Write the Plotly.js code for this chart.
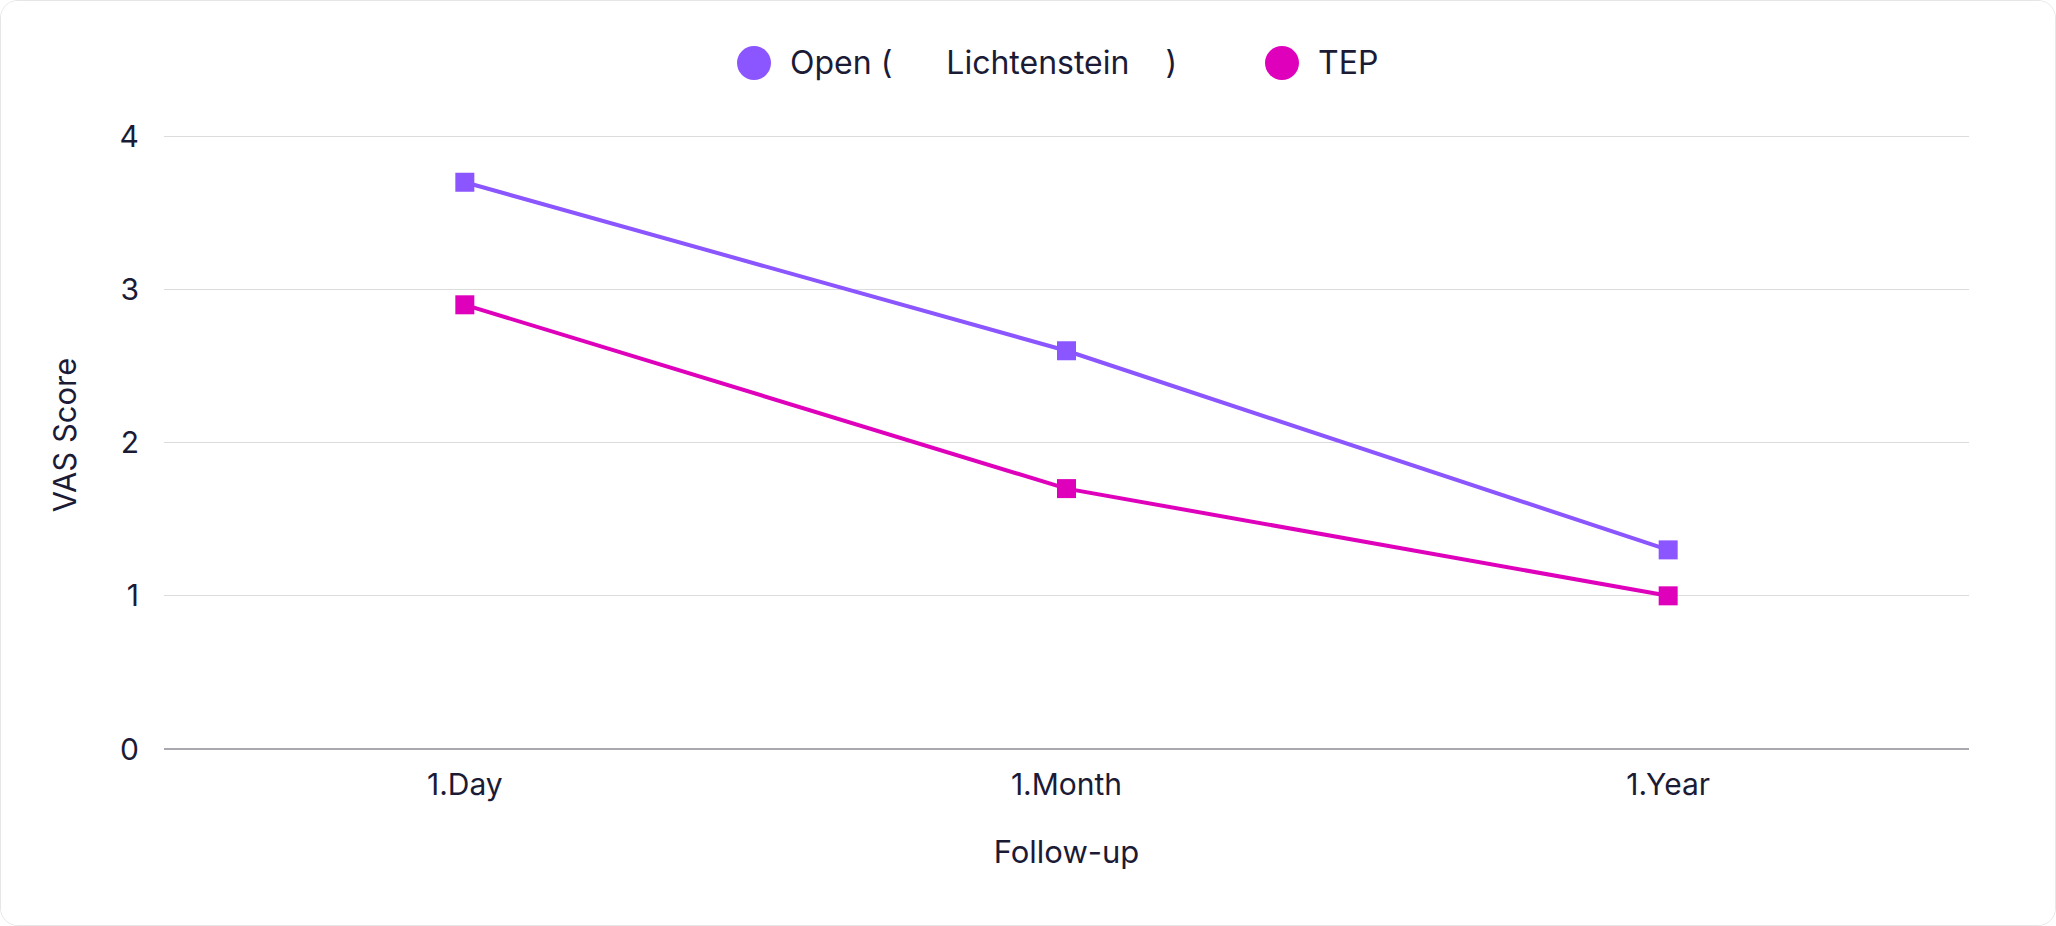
<!DOCTYPE html>
<html>
<head>
<meta charset="utf-8">
<script src="https://cdn.plot.ly/plotly-3.0.1.min.js"></script>
<style>
html,body{margin:0;padding:0;background:#ffffff;}
#card{position:absolute;left:0;top:0;width:2054px;height:924px;border:1px solid #e6e6e6;border-radius:18px;overflow:hidden;background:#fff;}
#chart{width:2054px;height:924px;}
</style>
</head>
<body>
<div id="card"><div id="chart"></div></div>
<script>
const categories = ["1.Day", "1.Month", "1.Year"];
const openValues = [3.7, 2.6, 1.3];
const tepValues = [2.9, 1.7, 1.0];
const seriesNames = ["Open\u00a0(\u00a0\u00a0\u00a0\u00a0\u00a0\u00a0Lichtenstein\u00a0\u00a0\u00a0\u00a0)", "TEP"];
const seriesColors = ["#8b55ff", "#de00bb"];
const yTicks = [0, 1, 2, 3, 4];

const FONT = "Inter, 'Noto Sans', sans-serif";
const TXT = "#1b1b36";

const traces = [openValues, tepValues].map((vals, i) => ({
  type: "scatter",
  mode: "lines+markers",
  name: seriesNames[i],
  x: categories,
  y: vals,
  line: {color: seriesColors[i], width: 4},
  marker: {symbol: "square", size: 19, color: seriesColors[i]},
  showlegend: false
}));

const W = 2054, H = 924;
const margin = {l: 163, r: 86, t: 120, b: 176};
const pw = W - margin.l - margin.r, ph = H - margin.t - margin.b;
function px2paperX(px){return (px - margin.l) / pw;}
function px2paperY(py){return (H - margin.b - py) / ph;}

// custom legend (large circles) in paper coordinates
const legendX = [753, 1281];
const shapes = [];
const annotations = [];
seriesNames.forEach((n, i) => {
  shapes.push({type: "circle", xref: "paper", yref: "paper", xsizemode: "pixel", ysizemode: "pixel",
    xanchor: px2paperX(legendX[i]), yanchor: px2paperY(62), x0: -17, x1: 17, y0: -17, y1: 17,
    fillcolor: seriesColors[i], line: {width: 0}});
  annotations.push({xref: "paper", yref: "paper", x: px2paperX(legendX[i] + 34), y: px2paperY(62),
    xanchor: "left", yanchor: "middle", showarrow: false, text: n,
    font: {family: FONT, size: 32, color: TXT}});
});

const layout = {
  width: W, height: H,
  margin: margin,
  paper_bgcolor: "#ffffff",
  plot_bgcolor: "#ffffff",
  font: {family: FONT, color: TXT},
  showlegend: false,
  xaxis: {
    type: "category",
    range: [-0.5, 2.5],
    showgrid: false,
    showline: false,
    zeroline: false,
    ticks: "",
    ticklabelstandoff: 15,
    tickfont: {family: FONT, size: 30, color: TXT},
    title: {text: "Follow-up", font: {family: FONT, size: 31, color: TXT}, standoff: 40}
  },
  yaxis: {
    range: [0, 4.1],
    tickvals: yTicks,
    ticktext: yTicks.map(String),
    showgrid: true,
    gridcolor: "#dcdcdc",
    gridwidth: 1.3,
    zeroline: true,
    zerolinecolor: "#a8a8ae",
    zerolinewidth: 2,
    showline: false,
    ticks: "",
    ticklen: 0,
    ticklabelstandoff: 24,
    tickfont: {family: FONT, size: 30, color: TXT},
    title: {text: "VAS Score", font: {family: FONT, size: 31, color: TXT}, standoff: 33}
  },
  shapes: shapes,
  annotations: annotations
};

Plotly.newPlot("chart", traces, layout, {displayModeBar: false, staticPlot: true});
</script>
</body>
</html>
